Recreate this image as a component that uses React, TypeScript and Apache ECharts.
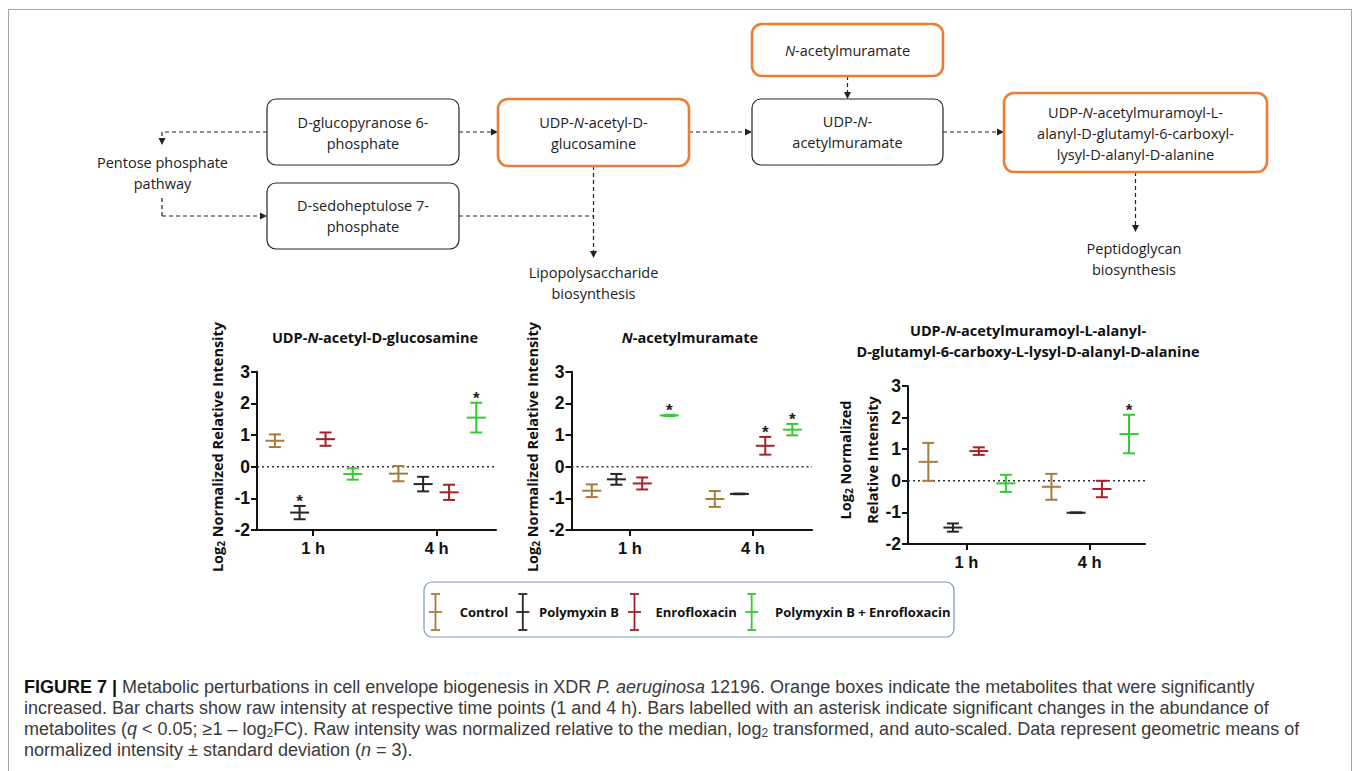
import React, { useEffect, useRef } from "react";
import * as echarts from "echarts";

// ---------- data ----------
const timePoints = ["1 h", "4 h"];
const treatments = ["Control", "Polymyxin B", "Enrofloxacin", "Polymyxin B + Enrofloxacin"];
const treatmentColors = ["#A67C3C", "#262626", "#A6222A", "#36C936"];
const yTickMin = -2;
const yTickMax = 3;
const yTickStep = 1;

// rows = treatments, columns = time points (1 h, 4 h); log2 normalized relative intensity
const glcnacMeans = [[0.82, -0.22], [-1.45, -0.55], [0.87, -0.81], [-0.23, 1.55]];
const glcnacSD = [[0.2, 0.24], [0.21, 0.23], [0.21, 0.24], [0.18, 0.47]];
const glcnacSig = [[0, 0], [1, 0], [0, 0], [0, 1]];

const murnacMeans = [[-0.76, -1.02], [-0.4, -0.86], [-0.53, 0.66], [1.62, 1.17]];
const murnacSD = [[0.2, 0.25], [0.17, 0.01], [0.19, 0.28], [0.02, 0.18]];
const murnacSig = [[0, 0], [0, 0], [0, 1], [1, 1]];

const peptideMeans = [[0.6, -0.19], [-1.48, -1.01], [0.94, -0.26], [-0.08, 1.48]];
const peptideSD = [[0.6, 0.41], [0.13, 0.01], [0.12, 0.26], [0.27, 0.61]];
const peptideSig = [[0, 0], [0, 0], [0, 0], [0, 1]];

// ---------- layout ----------
const GROUP_OFFSETS = [-0.31, -0.11, 0.1, 0.32];
const FONT_DIAG = "'Open Sans', 'Noto Sans', sans-serif";
const FONT_AX = "'Liberation Sans', Arial, sans-serif";
const FONT_CAP = "'Liberation Sans', Arial, sans-serif";

const panels = [
  { means: glcnacMeans, sds: glcnacSD, sig: glcnacSig, left: 257, top: 371.7, width: 239, height: 158.3, xMin: 0.545, xMax: 2.48 },
  { means: murnacMeans, sds: murnacSD, sig: murnacSig, left: 571.5, top: 371.7, width: 240.5, height: 158.3, xMin: 0.525, xMax: 2.48 },
  { means: peptideMeans, sds: peptideSD, sig: peptideSig, left: 908, top: 386, width: 237, height: 158, xMin: 0.525, xMax: 2.45 },
];

function rs(size: number, family: string, o: any = {}) {
  return {
    fontSize: size,
    fontFamily: family,
    fontWeight: o.weight || "normal",
    fontStyle: o.style || "normal",
    fill: o.fill || "#222",
    lineHeight: o.lh,
    padding: o.pad,
    verticalAlign: "middle",
  };
}

function errorBarRenderer(color: string) {
  return (params: any, api: any) => {
    const x = api.value(0);
    const m = api.value(1);
    const s = api.value(2);
    const sig = api.value(3);
    const c = api.coord([x, m]);
    const t = api.coord([x, m + s]);
    const b = api.coord([x, m - s]);
    const st = { stroke: color, lineWidth: 2 };
    const children: any[] = [
      { type: "line", shape: { x1: c[0], y1: t[1], x2: c[0], y2: b[1] }, style: st },
      { type: "line", shape: { x1: c[0] - 6, y1: t[1], x2: c[0] + 6, y2: t[1] }, style: st },
      { type: "line", shape: { x1: c[0] - 6, y1: b[1], x2: c[0] + 6, y2: b[1] }, style: st },
      { type: "line", shape: { x1: c[0] - 9.5, y1: c[1], x2: c[0] + 9.5, y2: c[1] }, style: st },
    ];
    if (sig) {
      children.push({
        type: "text",
        x: c[0],
        y: t[1] - 4,
        style: { text: "*", align: "center", verticalAlign: "middle", fontSize: 17, fontWeight: "bold", fontFamily: FONT_AX, fill: "#222" },
      });
    }
    return { type: "group", children };
  };
}

function buildOption() {
  const grid: any[] = [];
  const xAxis: any[] = [];
  const yAxis: any[] = [];
  const series: any[] = [];
  const axisColor = "#111";

  panels.forEach((p, pi) => {
    grid.push({ left: p.left, top: p.top, width: p.width, height: p.height, containLabel: false, outerBoundsMode: "none" });
    xAxis.push({
      type: "value",
      gridIndex: pi,
      min: p.xMin,
      max: p.xMax,
      axisLine: { show: true, onZero: false, lineStyle: { color: axisColor, width: 2 } },
      axisTick: { show: true, customValues: [1, 2], length: 6, lineStyle: { color: axisColor, width: 2 } },
      axisLabel: {
        customValues: [1, 2],
        formatter: (v: number) => timePoints[Math.round(v) - 1] || "",
        color: axisColor,
        fontSize: 16.5,
        fontWeight: "bold",
        fontFamily: FONT_AX,
        margin: 9,
      },
      splitLine: { show: false },
    });
    yAxis.push({
      type: "value",
      gridIndex: pi,
      min: yTickMin,
      max: yTickMax,
      interval: yTickStep,
      axisLine: { show: true, onZero: false, lineStyle: { color: axisColor, width: 2 } },
      axisTick: { show: true, length: 6, lineStyle: { color: axisColor, width: 2 } },
      axisLabel: { color: axisColor, fontSize: 17.5, fontWeight: "bold", fontFamily: FONT_AX, margin: 7 },
      splitLine: { show: false },
    });
    series.push({
      type: "line",
      xAxisIndex: pi,
      yAxisIndex: pi,
      data: [[p.xMin, 0], [p.xMax, 0]],
      symbol: "none",
      silent: true,
      z: 1,
      lineStyle: { type: [2, 3], color: "#333", width: 1.5 },
    });
    treatments.forEach((t, ti) => {
      series.push({
        type: "custom",
        name: t,
        xAxisIndex: pi,
        yAxisIndex: pi,
        silent: true,
        clip: false,
        z: 3,
        data: timePoints.map((_, k) => [k + 1 + GROUP_OFFSETS[ti], p.means[ti][k], p.sds[ti][k], p.sig[ti][k]]),
        renderItem: errorBarRenderer(treatmentColors[ti]),
      });
    });
  });

  // ---------- graphic: diagram, titles, legend, caption ----------
  const g: any[] = [];
  g.push({ type: "rect", shape: { x: 8.5, y: 9.5, width: 1343, height: 800 }, style: { fill: "none", stroke: "#A3A3A3", lineWidth: 1 } });

  const box = (x: number, y: number, w: number, h: number, orange: boolean) =>
    g.push({
      type: "rect",
      shape: { x, y, width: w, height: h, r: orange ? 10 : 9 },
      style: { fill: "#fff", stroke: orange ? "#ED7D31" : "#262626", lineWidth: orange ? 2.6 : 1.2 },
    });
  const dtext = (x: number, y: number, text: string) =>
    g.push({
      type: "text",
      x,
      y,
      style: {
        text,
        align: "center",
        verticalAlign: "middle",
        fontSize: 14.5,
        fontFamily: FONT_DIAG,
        fill: "#222",
        rich: { r: rs(14.5, FONT_DIAG, { lh: 21 }), i: rs(14.5, FONT_DIAG, { style: "italic", lh: 21 }) },
      },
    });
  const dash = (x1: number, y1: number, x2: number, y2: number) =>
    g.push({ type: "line", shape: { x1, y1, x2, y2 }, style: { stroke: "#222", lineWidth: 1.2, lineDash: [4, 3] } });
  const headRight = (x: number, y: number) =>
    g.push({ type: "polygon", shape: { points: [[x - 7, y - 3.5], [x, y], [x - 7, y + 3.5]] }, style: { fill: "#222" } });
  const headDown = (x: number, y: number) =>
    g.push({ type: "polygon", shape: { points: [[x - 3.5, y - 7], [x, y], [x + 3.5, y - 7]] }, style: { fill: "#222" } });

  // connectors
  dash(267, 132, 162, 132);
  dash(162, 132, 162, 140);
  headDown(162, 145);
  dash(162, 198, 162, 216);
  dash(162, 216, 262, 216);
  headRight(267, 216);
  dash(459, 132, 493, 132);
  headRight(498, 132);
  dash(689, 132, 747, 132);
  headRight(752, 132);
  dash(943, 132, 999, 132);
  headRight(1004, 132);
  dash(847.5, 76, 847.5, 94);
  headDown(847.5, 99);
  dash(593.5, 166, 593.5, 252);
  headDown(593.5, 258);
  dash(459, 216, 593.5, 216);
  dash(1135.5, 172, 1135.5, 226);
  headDown(1135.5, 232);

  box(267, 99, 192, 66, false);
  box(267, 183, 192, 66, false);
  box(498, 99, 191, 67, true);
  box(752, 99, 191, 66, false);
  box(752, 24, 191, 52, true);
  box(1004, 93, 263, 79, true);

  dtext(363, 132.5, "{r|D-glucopyranose 6-}\n{r|phosphate}");
  dtext(363, 216, "{r|D-sedoheptulose 7-}\n{r|phosphate}");
  dtext(593.5, 132.5, "{r|UDP-}{i|N}{r|-acetyl-D-}\n{r|glucosamine}");
  dtext(847.5, 132, "{r|UDP-}{i|N}{r|-}\n{r|acetylmuramate}");
  dtext(847.5, 50, "{i|N}{r|-acetylmuramate}");
  dtext(1135.5, 133, "{r|UDP-}{i|N}{r|-acetylmuramoyl-L-}\n{r|alanyl-D-glutamyl-6-carboxyl-}\n{r|lysyl-D-alanyl-D-alanine}");
  dtext(162.5, 172.5, "{r|Pentose phosphate}\n{r|pathway}");
  dtext(593.5, 282.5, "{r|Lipopolysaccharide}\n{r|biosynthesis}");
  dtext(1134, 259, "{r|Peptidoglycan}\n{r|biosynthesis}");

  // chart titles
  const tRich = {
    b: rs(14.5, FONT_DIAG, { weight: "bold", fill: "#111", lh: 21 }),
    bi: rs(14.5, FONT_DIAG, { weight: "bold", style: "italic", fill: "#111", lh: 21 }),
  };
  const title = (x: number, y: number, text: string) =>
    g.push({ type: "text", x, y, style: { text, align: "center", verticalAlign: "middle", fontSize: 14.5, fontFamily: FONT_DIAG, rich: tRich } });
  title(375, 337, "{b|UDP-}{bi|N}{b|-acetyl-D-glucosamine}");
  title(690, 337, "{bi|N}{b|-acetylmuramate}");
  title(1028, 340.5, "{b|UDP-}{bi|N}{b|-acetylmuramoyl-L-alanyl-}\n{b|D-glutamyl-6-carboxy-L-lysyl-D-alanyl-D-alanine}");

  // y-axis names
  const nRich = {
    b: rs(14.5, FONT_DIAG, { weight: "bold", fill: "#111", lh: 27 }),
    s: rs(10, FONT_DIAG, { weight: "bold", fill: "#111", pad: [7, 0, 0, 0] }),
  };
  const yname = (x: number, y: number, text: string) =>
    g.push({
      type: "text",
      x,
      y,
      rotation: Math.PI / 2,
      style: { text, align: "center", verticalAlign: "middle", fontSize: 14.5, fontFamily: FONT_DIAG, rich: nRich },
    });
  yname(217, 447, "{b|Log}{s|2}{b| Normalized Relative Intensity}");
  yname(532, 447, "{b|Log}{s|2}{b| Normalized Relative Intensity}");
  yname(858.5, 460, "{b|Log}{s|2}{b| Normalized}\n{b|Relative Intensity}");

  // legend
  g.push({ type: "rect", shape: { x: 424, y: 582, width: 530, height: 55, r: 8 }, style: { fill: "#fff", stroke: "#7C98BA", lineWidth: 1.2 } });
  const iconX = [435.5, 522.8, 634.5, 751.7];
  const labelX = [459.7, 539, 655.5, 775];
  treatments.forEach((t, i) => {
    const st = { stroke: treatmentColors[i], lineWidth: 1.8 };
    const x = iconX[i];
    g.push({ type: "line", shape: { x1: x, y1: 594, x2: x, y2: 630 }, style: st });
    g.push({ type: "line", shape: { x1: x - 4.5, y1: 594, x2: x + 4.5, y2: 594 }, style: st });
    g.push({ type: "line", shape: { x1: x - 4.5, y1: 630, x2: x + 4.5, y2: 630 }, style: st });
    g.push({ type: "line", shape: { x1: x - 6.5, y1: 612, x2: x + 6.5, y2: 612 }, style: st });
    g.push({
      type: "text",
      x: labelX[i],
      y: 612,
      style: { text: t, align: "left", verticalAlign: "middle", fontSize: 13, fontWeight: "bold", fontFamily: FONT_DIAG, fill: "#111" },
    });
  });

  // caption
  const CAP = 18;
  const cRich = {
    b: rs(CAP, FONT_CAP, { weight: "bold", fill: "#111" }),
    r: rs(CAP, FONT_CAP, { fill: "#3a3a3a" }),
    i: rs(CAP, FONT_CAP, { style: "italic", fill: "#3a3a3a" }),
    s: rs(12, FONT_CAP, { fill: "#3a3a3a", pad: [8, 0, 0, 0] }),
  };
  const capLines = [
    "{b|FIGURE 7 |}{r| Metabolic perturbations in cell envelope biogenesis in XDR }{i|P. aeruginosa}{r| 12196. Orange boxes indicate the metabolites that were significantly}",
    "{r|increased. Bar charts show raw intensity at respective time points (1 and 4 h). Bars labelled with an asterisk indicate significant changes in the abundance of}",
    "{r|metabolites (}{i|q}{r| < 0.05; ≥1 – log}{s|2}{r|FC). Raw intensity was normalized relative to the median, log}{s|2}{r| transformed, and auto-scaled. Data represent geometric means of}",
    "{r|normalized intensity ± standard deviation (}{i|n}{r| = 3).}",
  ];
  const capY = [687, 708.3, 729.3, 750];
  capLines.forEach((txt, i) =>
    g.push({ type: "text", x: 24, y: capY[i], style: { text: txt, align: "left", verticalAlign: "middle", fontSize: CAP, fontFamily: FONT_CAP, rich: cRich } })
  );

  return {
    animation: false,
    backgroundColor: "#fff",
    grid,
    xAxis,
    yAxis,
    series,
    graphic: { elements: g },
  };
}

export default function App() {
  const ref = useRef<HTMLDivElement>(null);
  useEffect(() => {
    const chart = echarts.init(ref.current!, null, { renderer: "svg" });
    chart.setOption(buildOption() as any);
    return () => chart.dispose();
  }, []);
  return <div ref={ref} style={{ position: "absolute", left: 0, top: 0, width: 1355, height: 771, background: "#fff" }} />;
}
